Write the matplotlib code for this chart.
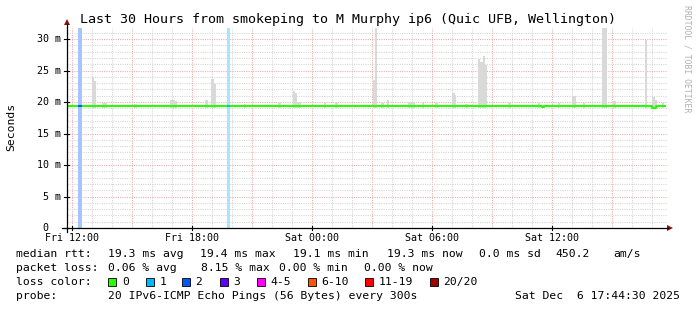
import matplotlib
matplotlib.use("Agg")
import matplotlib.pyplot as plt
from matplotlib.patches import Rectangle, Polygon
from matplotlib.colors import to_rgb
import numpy as np

# ---------------- data ----------------
title = "Last 30 Hours from smokeping to M Murphy ip6 (Quic UFB, Wellington)"
y_label = "Seconds"
watermark = "RRDTOOL / TOBI OETIKER"

# hours relative to Fri 12:00
t_start = -0.2583          # Fri 11:44:30
t_span = 30.0
x_tick_hours = [0, 6, 12, 18, 24]
x_tick_labels = ["Fri 12:00", "Fri 18:00", "Sat 00:00", "Sat 06:00", "Sat 12:00"]
y_tick_ms = [0, 5, 10, 15, 20, 25, 30]
y_tick_labels = ["0  ", "5 m", "10 m", "15 m", "20 m", "25 m", "30 m"]
y_max = 31.75

# smoke (max ping per 5-min step) spikes
smoke_hours = [1.055, 1.15, 1.565, 1.665, 3.165, 4.965, 5.065, 5.165, 6.715, 7.015,
               7.115, 8.64, 10.365, 11.09, 11.175, 11.29, 11.39, 12.64, 13.215,
               15.09, 15.18, 15.515, 15.79, 16.865, 16.965, 17.065, 17.54, 18.215,
               19.065, 19.15, 19.715, 20.34, 20.475, 20.58, 20.7, 21.865, 23.34,
               24.34, 25.04, 25.14, 25.59, 26.565, 26.665, 27.115, 28.705, 29.065,
               29.18, 29.54]
smoke_top = [23.9, 23.3, 19.9, 19.9, 19.7, 20.3, 20.3, 20.2, 20.3, 23.6,
             22.8, 19.7, 19.8, 21.7, 21.4, 20.0, 20.0, 19.9, 19.8,
             23.5, 33.0, 19.8, 20.3, 20.0, 20.0, 19.9, 19.8, 19.9,
             21.5, 21.1, 19.7, 26.9, 26.3, 27.3, 25.8, 19.8, 19.8,
             19.8, 21.0, 20.9, 19.8, 33.0, 33.0, 20.2, 29.9, 20.8,
             20.3, 19.8]
smoke_bottom = 19.1

# median rtt (step series)
median_hours = [-0.2583, 13.4, 14.3, 23.5, 23.6, 24.9, 25.5, 29.0, 29.2, 29.67]
median_ms = [19.3, 19.35, 19.3, 19.2, 19.3, 19.4, 19.3, 19.05, 19.3, 19.3]

# packet loss events
loss_start = [0.275, 7.755]
loss_end = [0.49, 7.89]
loss_count_idx = [2, 1]

loss_colors = ["#26ff00", "#00b8ff", "#0059ff", "#5e00ff", "#ff00ff", "#ff5500", "#ff0000", "#a10000"]
loss_labels = ["0", "1", "2", "3", "4-5", "6-10", "11-19", "20/20"]

rtt_avg, rtt_max, rtt_min, rtt_now, rtt_sd, am_s = 19.3, 19.4, 19.1, 19.3, 0.0, 450.2
loss_avg, loss_max, loss_min, loss_now = 0.06, 8.15, 0.00, 0.00
probe_text = "20 IPv6-ICMP Echo Pings (56 Bytes) every 300s"
date_text = "Sat Dec  6 17:44:30 2025"

# ---------------- figure ----------------
W, H = 697, 310
fig = plt.figure(figsize=(W / 100, H / 100), dpi=100)
fig.patch.set_facecolor("white")
MONO = "DejaVu Sans Mono"

PL, PB, PW, PH = 67, 228, 600, 200
ax = fig.add_axes([PL / W, (H - PB) / H, PW / W, PH / H])
ax.set_xlim(t_start, t_start + t_span)
ax.set_ylim(0, y_max)
for s in ax.spines.values():
    s.set_visible(False)
ax.set_xticks([])
ax.set_yticks([])
ax.set_facecolor("white")

# grid
minor_c = "#d4d4d4"
major_c = "#f0a8a8"
dash = (0, (1.0, 1.2))
for h in range(0, 30):
    c = major_c if h % 3 == 0 else minor_c
    ax.axvline(h, color=c, lw=0.75, ls=dash, zorder=0)
for m in range(1, 32):
    c = major_c if m % 5 == 0 else minor_c
    ax.axhline(m, color=c, lw=0.75, ls=dash, zorder=0)

# loss bars (light)
def lighten(c, a=0.35):
    r, g, b = to_rgb(c)
    return (1 - a + a * r, 1 - a + a * g, 1 - a + a * b)

for s, e, k in zip(loss_start, loss_end, loss_count_idx):
    ax.add_patch(Rectangle((s, 0), e - s, y_max, color=lighten(loss_colors[k]), lw=0, zorder=1))

# smoke
ax.bar(smoke_hours, [t - smoke_bottom for t in smoke_top], bottom=smoke_bottom,
       width=0.12, color="#d9d9d9", lw=0, zorder=2)

# median line
ax.plot(median_hours, median_ms, drawstyle="steps-post", color=loss_colors[0], lw=1.5,
        solid_capstyle="butt", zorder=3)
for s, e, k in zip(loss_start, loss_end, loss_count_idx):
    idx = max(i for i, t in enumerate(median_hours) if t <= s)
    v = median_ms[idx]
    ax.plot([s, e], [v, v], color=loss_colors[k], lw=1.5, solid_capstyle="butt", zorder=4)

# ---------------- overlay in pixel coordinates ----------------
ov = fig.add_axes([0, 0, 1, 1])
ov.set_xlim(0, W)
ov.set_ylim(H, 0)
ov.axis("off")
ov.patch.set_alpha(0)

def hx(h):
    return PL + (h - t_start) * PW / t_span

def my(m):
    return PB - m * PH / y_max

# axes
ov.plot([PL, PL], [PB + 4, 24], color="black", lw=0.9)
ov.plot([PL - 5, 668], [PB, PB], color="black", lw=0.9)
ov.add_patch(Polygon([(PL - 3, 25), (PL + 3, 25), (PL, 19)], closed=True, color="#8b1010", lw=0))
ov.add_patch(Polygon([(667, PB - 3), (667, PB + 3), (673, PB)], closed=True, color="#8b1010", lw=0))

# y ticks + labels
for m, lab in zip(y_tick_ms, y_tick_labels):
    yy = my(m)
    ov.plot([PL - 3, PL + 2], [yy, yy], color="black", lw=0.8)
    ov.text(61, yy, lab, ha="right", va="center", family=MONO, fontsize=7.2)

# x ticks + labels
for h, lab in zip(x_tick_hours, x_tick_labels):
    xx = hx(h)
    ov.plot([xx, xx], [PB - 2, PB + 2], color="black", lw=0.8)
    ov.text(xx, 238, lab, ha="center", va="center", family=MONO, fontsize=7.2)

ov.text(80, 19, title, ha="left", va="center", family=MONO, fontsize=9.6)
ov.text(11, 127, y_label, ha="center", va="center", rotation=90, family=MONO, fontsize=8.2)
ov.text(687, 5, watermark, ha="center", va="top", rotation=270, family=MONO,
        fontsize=5.9, color="#b0b0b0")

fs = 8.2
row1 = [(16, "median rtt:"), (107.6, f"{rtt_avg:.1f} ms avg"), (200, f"{rtt_max:.1f} ms max"),
        (293, f"{rtt_min:.1f} ms min"), (387, f"{rtt_now:.1f} ms now"), (479, f"{rtt_sd:.1f} ms sd"),
        (555.6, f"{am_s:.1f}"), (613, "am/s")]
row2 = [(16, "packet loss:"), (107.6, f"{loss_avg:.2f} % avg"), (200.9, f"{loss_max:.2f} % max"),
        (279, f"{loss_min:.2f} % min"), (364.4, f"{loss_now:.2f} % now")]
for x, t in row1:
    ov.text(x, 254, t, ha="left", va="center", family=MONO, fontsize=fs)
for x, t in row2:
    ov.text(x, 268, t, ha="left", va="center", family=MONO, fontsize=fs)

ov.text(16, 282, "loss color:", ha="left", va="center", family=MONO, fontsize=fs)
box_x = [108.4, 145.8, 182, 219.6, 257, 307.6, 365, 430]
for bx, c, lab in zip(box_x, loss_colors, loss_labels):
    ov.add_patch(Rectangle((bx, 278), 8, 8, facecolor=c, edgecolor="black", lw=0.6))
    ov.text(bx + 13.5, 282, lab, ha="left", va="center", family=MONO, fontsize=fs)

ov.text(16, 296, "probe:", ha="left", va="center", family=MONO, fontsize=fs)
ov.text(107.6, 296, probe_text, ha="left", va="center", family=MONO, fontsize=fs)
ov.text(680, 296, date_text, ha="right", va="center", family=MONO, fontsize=fs)

fig.savefig("out.png", dpi=100, facecolor="white")
